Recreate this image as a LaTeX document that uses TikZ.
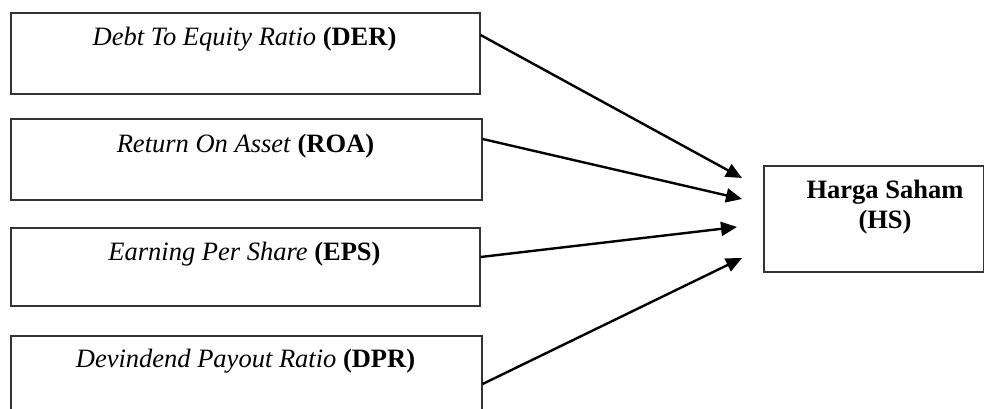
\documentclass[tikz,border=0pt]{standalone}
\usepackage{fontspec}
\setmainfont{Liberation Serif}
\usetikzlibrary{arrows.meta,calc}
\begin{document}
\begin{tikzpicture}[x=1pt,y=-1pt,
  box/.style={draw=black!80,line width=1.6pt,inner sep=0pt,anchor=north west},
  lbl/.style={anchor=base,inner sep=0pt,font=\fontsize{26.5}{30}\selectfont},
  link/.style={line width=2.4pt,-{Triangle[length=16pt,width=14pt]}}]
\useasboundingbox (0,0) rectangle (984,409);
\node[box,minimum width=469pt,minimum height=81pt] (der) at (10,12) {};
\node[box,minimum width=471pt,minimum height=81pt] (roa) at (10,118) {};
\node[box,minimum width=469pt,minimum height=78pt] (eps) at (10,227) {};
\node[box,minimum width=471pt,minimum height=90pt] (dpr) at (10,335) {};
\node[box,minimum width=220pt,minimum height=106pt] (hs) at (763,165) {};
\node[lbl] (tder) at (244.5,46) {\textit{Debt To Equity Ratio} \textbf{(DER)}};
\node[lbl] (troa) at (245.5,152) {\textit{Return On Asset} \textbf{(ROA)}};
\node[lbl] (teps) at (244.5,260) {\textit{Earning Per Share} \textbf{(EPS)}};
\node[lbl] (tdpr) at (245.5,367) {\textit{Devindend Payout Ratio} \textbf{(DPR)}};
\node[lbl] (ths1) at (885,198) {\textbf{Harga Saham}};
\node[lbl] (ths2) at (885,228) {\textbf{(HS)}};
\coordinate (s1) at ($(der.north east)+(0,23)$);
\coordinate (s2) at ($(roa.north east)+(0,21)$);
\coordinate (s3) at ($(eps.north east)+(0,30)$);
\coordinate (s4) at ($(dpr.north east)+(0,49)$);
\coordinate (e1) at ($(hs.north west)+(-21,13)$);
\coordinate (e2) at ($(hs.north west)+(-21,34)$);
\coordinate (e3) at ($(hs.north west)+(-26,62)$);
\coordinate (e4) at ($(hs.north west)+(-21,93)$);
\draw[link] (s1) -- (e1);
\draw[link] (s2) -- (e2);
\draw[link] (s3) -- (e3);
\draw[link] (s4) -- (e4);
\end{tikzpicture}
\end{document}
